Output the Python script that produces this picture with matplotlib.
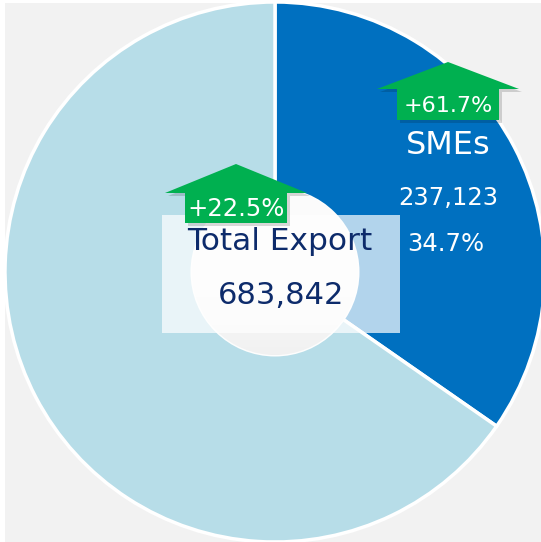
import matplotlib
matplotlib.use("Agg")
import matplotlib.pyplot as plt
import numpy as np
from matplotlib.patches import Rectangle, Circle, Polygon

# data
categories = ["SMEs", "Others"]
total_export = 683842
sme_value = 237123
values = [sme_value, total_export - sme_value]
sme_share = "34.7%"
total_growth = "+22.5%"
sme_growth = "+61.7%"

colors = ["#0070C0", "#B7DDE8"]
W, H = 541, 542
fig = plt.figure(figsize=(W / 100, H / 100), dpi=100)
fig.patch.set_facecolor("white")
ax = fig.add_axes([0, 0, 1, 1])

def Y(y):
    return H - y

ax.add_patch(Rectangle((5, 0), W - 5, Y(3), facecolor="#F2F2F2", edgecolor="none", zorder=0))

cx, cy, R = 275, Y(272), 270
ax.pie(values, colors=colors, startangle=90, counterclock=False, center=(cx, cy), radius=R,
       wedgeprops=dict(edgecolor="white", linewidth=2.5), frame=True)
ax.set_xlim(0, W)
ax.set_ylim(0, H)
ax.set_aspect("equal")
ax.axis("off")

# inner circle with soft vertical gradient
rin = 83
ax.add_patch(Circle((cx, cy), rin + 1.5, facecolor="#FDFDFD", edgecolor="none", zorder=3))
grad = np.concatenate([np.full(55, 0.985), np.linspace(0.985, 0.945, 45)]).reshape(-1, 1)
img = np.dstack([grad, grad, grad])
im = ax.imshow(img, extent=(cx - rin, cx + rin, cy - rin, cy + rin), origin="upper",
               aspect="auto", zorder=3.1, interpolation="bilinear")
clip = Circle((cx, cy), rin, transform=ax.transData)
im.set_clip_path(clip)
ax.set_xlim(0, W)
ax.set_ylim(0, H)

# translucent box
ax.add_patch(Rectangle((162, Y(333)), 238, 118, facecolor="white", alpha=0.7, edgecolor="none", zorder=4))

FONT = "DejaVu Sans"

def arrow(tipx, tipy, halfhead, basey, halfstem, stemb, label, fs):
    pts = [(tipx, Y(tipy)), (tipx + halfhead, Y(basey)), (tipx + halfstem, Y(basey)),
           (tipx + halfstem, Y(stemb)), (tipx - halfstem, Y(stemb)), (tipx - halfstem, Y(basey)),
           (tipx - halfhead, Y(basey))]
    sh = [(x + 3, y - 3) for x, y in pts]
    ax.add_patch(Polygon(sh, closed=True, facecolor="black", alpha=0.15, edgecolor="none", zorder=5))
    ax.add_patch(Polygon(pts, closed=True, facecolor="#00B050", edgecolor="none", zorder=6))
    ax.text(tipx, Y((basey + stemb) / 2 + 1), label, color="white", fontsize=fs, fontfamily=FONT,
            ha="center", va="center", zorder=7)

arrow(236, 164, 71, 193, 51, 223, total_growth, 17.5)
arrow(448, 62, 71, 89, 51, 120, sme_growth, 16)

navy = "#0D2B6B"
ax.text(280, Y(241), "Total Export", color=navy, fontsize=22.5, fontfamily=FONT, ha="center", va="center", zorder=7)
ax.text(281, Y(296), f"{total_export:,}", color=navy, fontsize=22, fontfamily=FONT, ha="center", va="center", zorder=7)

ax.text(448, Y(145), categories[0], color="white", fontsize=23, fontfamily=FONT, ha="center", va="center", zorder=7)
ax.text(448, Y(198), f"{sme_value:,}", color="white", fontsize=17.5, fontfamily=FONT, ha="center", va="center", zorder=7)
ax.text(446, Y(244), sme_share, color="white", fontsize=17.5, fontfamily=FONT, ha="center", va="center", zorder=7)

fig.savefig("out.png", dpi=100)
